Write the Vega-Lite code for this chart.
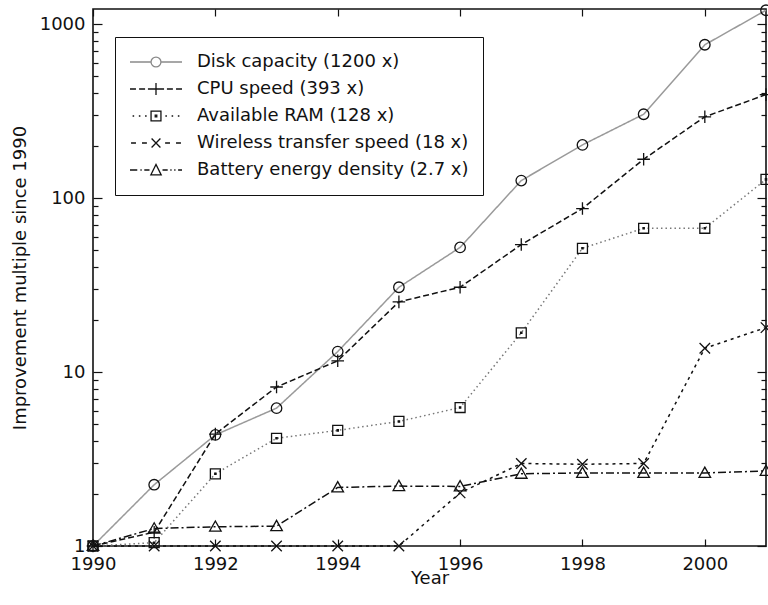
{
  "$schema": "https://vega.github.io/schema/vega-lite/v6.json",
  "width": 673,
  "height": 537,
  "autosize": {"type": "none"},
  "padding": {"left": 93, "top": 9, "right": 2, "bottom": 59},
  "background": "white",
  "config": {
    "font": "DejaVu Sans",
    "view": {"stroke": "#111111", "strokeWidth": 1.6},
    "axis": {
      "grid": false,
      "domain": false,
      "labelFlush": false,
      "labelFont": "DejaVu Sans",
      "labelFontSize": 18,
      "labelColor": "#111111",
      "titleFont": "DejaVu Sans",
      "titleFontSize": 18,
      "titleFontWeight": "normal",
      "titleColor": "#111111",
      "tickColor": "#111111",
      "tickWidth": 1.2
    },
    "legend": {
      "orient": "none",
      "legendX": 22,
      "legendY": 28,
      "padding": 14,
      "strokeColor": "#111111",
      "fillColor": "white",
      "symbolSize": 2704,
      "symbolStrokeWidth": 1.3,
      "symbolOpacity": 1,
      "symbolFillColor": "transparent",
      "clipHeight": 22,
      "labelFont": "DejaVu Sans",
      "labelFontSize": 18,
      "labelColor": "#111111",
      "labelOffset": 14,
      "labelLimit": 400,
      "rowPadding": 5
    }
  },
  "data": {
    "values": [
      {"series": "Disk capacity (1200 x)", "year": 1990, "value": 1},
      {"series": "Disk capacity (1200 x)", "year": 1991, "value": 2.25},
      {"series": "Disk capacity (1200 x)", "year": 1992, "value": 4.35},
      {"series": "Disk capacity (1200 x)", "year": 1993, "value": 6.2},
      {"series": "Disk capacity (1200 x)", "year": 1994, "value": 13.1},
      {"series": "Disk capacity (1200 x)", "year": 1995, "value": 30.7},
      {"series": "Disk capacity (1200 x)", "year": 1996, "value": 52},
      {"series": "Disk capacity (1200 x)", "year": 1997, "value": 126},
      {"series": "Disk capacity (1200 x)", "year": 1998, "value": 202},
      {"series": "Disk capacity (1200 x)", "year": 1999, "value": 303},
      {"series": "Disk capacity (1200 x)", "year": 2000, "value": 760},
      {"series": "Disk capacity (1200 x)", "year": 2001, "value": 1200},
      {"series": "CPU speed (393 x)", "year": 1990, "value": 1},
      {"series": "CPU speed (393 x)", "year": 1991, "value": 1.2},
      {"series": "CPU speed (393 x)", "year": 1992, "value": 4.4},
      {"series": "CPU speed (393 x)", "year": 1993, "value": 8.2},
      {"series": "CPU speed (393 x)", "year": 1994, "value": 11.6},
      {"series": "CPU speed (393 x)", "year": 1995, "value": 25.3},
      {"series": "CPU speed (393 x)", "year": 1996, "value": 30.7},
      {"series": "CPU speed (393 x)", "year": 1997, "value": 54},
      {"series": "CPU speed (393 x)", "year": 1998, "value": 87},
      {"series": "CPU speed (393 x)", "year": 1999, "value": 167},
      {"series": "CPU speed (393 x)", "year": 2000, "value": 293},
      {"series": "CPU speed (393 x)", "year": 2001, "value": 393},
      {"series": "Available RAM (128 x)", "year": 1990, "value": 1},
      {"series": "Available RAM (128 x)", "year": 1991, "value": 1.045},
      {"series": "Available RAM (128 x)", "year": 1992, "value": 2.6},
      {"series": "Available RAM (128 x)", "year": 1993, "value": 4.16},
      {"series": "Available RAM (128 x)", "year": 1994, "value": 4.62},
      {"series": "Available RAM (128 x)", "year": 1995, "value": 5.2},
      {"series": "Available RAM (128 x)", "year": 1996, "value": 6.25},
      {"series": "Available RAM (128 x)", "year": 1997, "value": 16.8},
      {"series": "Available RAM (128 x)", "year": 1998, "value": 51.4},
      {"series": "Available RAM (128 x)", "year": 1999, "value": 67},
      {"series": "Available RAM (128 x)", "year": 2000, "value": 67},
      {"series": "Available RAM (128 x)", "year": 2001, "value": 128},
      {"series": "Wireless transfer speed (18 x)", "year": 1990, "value": 1},
      {"series": "Wireless transfer speed (18 x)", "year": 1991, "value": 1},
      {"series": "Wireless transfer speed (18 x)", "year": 1992, "value": 1},
      {"series": "Wireless transfer speed (18 x)", "year": 1993, "value": 1},
      {"series": "Wireless transfer speed (18 x)", "year": 1994, "value": 1},
      {"series": "Wireless transfer speed (18 x)", "year": 1995, "value": 1},
      {"series": "Wireless transfer speed (18 x)", "year": 1996, "value": 2.02},
      {"series": "Wireless transfer speed (18 x)", "year": 1997, "value": 2.98},
      {"series": "Wireless transfer speed (18 x)", "year": 1998, "value": 2.95},
      {"series": "Wireless transfer speed (18 x)", "year": 1999, "value": 2.98},
      {"series": "Wireless transfer speed (18 x)", "year": 2000, "value": 13.7},
      {"series": "Wireless transfer speed (18 x)", "year": 2001, "value": 18},
      {"series": "Battery energy density (2.7 x)", "year": 1990, "value": 1},
      {"series": "Battery energy density (2.7 x)", "year": 1991, "value": 1.26},
      {"series": "Battery energy density (2.7 x)", "year": 1992, "value": 1.29},
      {"series": "Battery energy density (2.7 x)", "year": 1993, "value": 1.3},
      {"series": "Battery energy density (2.7 x)", "year": 1994, "value": 2.17},
      {"series": "Battery energy density (2.7 x)", "year": 1995, "value": 2.21},
      {"series": "Battery energy density (2.7 x)", "year": 1996, "value": 2.2},
      {"series": "Battery energy density (2.7 x)", "year": 1997, "value": 2.6},
      {"series": "Battery energy density (2.7 x)", "year": 1998, "value": 2.63},
      {"series": "Battery energy density (2.7 x)", "year": 1999, "value": 2.63},
      {"series": "Battery energy density (2.7 x)", "year": 2000, "value": 2.63},
      {"series": "Battery energy density (2.7 x)", "year": 2001, "value": 2.7}
    ]
  },
  "layer": [
    {
      "mark": {"type": "line", "strokeWidth": 1.5},
      "encoding": {
        "x": {
          "field": "year",
          "type": "quantitative",
          "scale": {"domain": [1990, 2001], "nice": false, "zero": false},
          "axis": {
            "orient": "bottom",
            "values": [1990, 1992, 1994, 1996, 1998, 2000],
            "format": "d",
            "tickSize": -7,
            "labelPadding": 16,
            "title": "Year",
            "titlePadding": -4
          }
        },
        "y": {
          "field": "value",
          "type": "quantitative",
          "scale": {"type": "log", "domain": [1, 1220], "nice": false},
          "axis": {
            "orient": "left",
            "values": [1, 2, 3, 4, 5, 6, 7, 8, 9, 10, 20, 30, 40, 50, 60, 70, 80, 90, 100, 200, 300, 400, 500, 600, 700, 800, 900, 1000],
            "format": "d",
            "labelExpr": "indexof([1, 10, 100, 1000], datum.value) >= 0 ? datum.label : ''",
            "tickSize": {"condition": {"test": "indexof([1, 10, 100, 1000], datum.value) >= 0", "value": -9}, "value": -5},
            "labelPadding": 17,
            "title": "Improvement multiple since 1990",
            "titlePadding": 10
          }
        },
        "color": {
          "field": "series",
          "type": "nominal",
          "scale": {"range": ["#777777", "#111111", "#111111", "#9a9a9a", "#111111"]},
          "legend": null
        },
        "strokeDash": {
          "field": "series",
          "type": "nominal",
          "scale": {"range": [[1.5, 3], [8, 3, 2, 3], [6, 3], [1, 0], [3, 4]]},
          "legend": null
        }
      }
    },
    {
      "mark": {"type": "point", "filled": false, "stroke": "#111111", "strokeWidth": 1.3, "size": 110, "opacity": 1},
      "encoding": {
        "x": {
          "field": "year",
          "type": "quantitative",
          "axis": {
            "orient": "top",
            "values": [1990, 1992, 1994, 1996, 1998, 2000],
            "tickSize": -7,
            "labels": false,
            "title": null
          }
        },
        "y": {
          "field": "value",
          "type": "quantitative",
          "axis": {
            "orient": "right",
            "values": [1, 2, 3, 4, 5, 6, 7, 8, 9, 10, 20, 30, 40, 50, 60, 70, 80, 90, 100, 200, 300, 400, 500, 600, 700, 800, 900, 1000],
            "tickSize": {"condition": {"test": "indexof([1, 10, 100, 1000], datum.value) >= 0", "value": -9}, "value": -5},
            "labels": false,
            "title": null
          }
        },
        "shape": {
          "field": "series",
          "type": "nominal",
          "scale": {
            "range": [
              "M-0.95,-0.95H0.95V0.95H-0.95ZM-0.12,-0.12H0.12V0.12H-0.12Z",
              "M0,-1.1L1.1,0.85L-1.1,0.85Z",
              "M-1.2,0H1.2M0,-1.2V1.2",
              "circle",
              "M-1,-1L1,1M-1,1L1,-1"
            ]
          },
          "legend": null
        }
      }
    },
    {
      "mark": {"type": "point", "filled": false, "opacity": 0},
      "encoding": {
        "x": {"field": "year", "type": "quantitative", "axis": null},
        "y": {"field": "value", "type": "quantitative", "axis": null},
        "shape": {
          "field": "series",
          "type": "nominal",
          "scale": {
            "domain": ["Disk capacity (1200 x)", "CPU speed (393 x)", "Available RAM (128 x)", "Wireless transfer speed (18 x)", "Battery energy density (2.7 x)"],
            "range": [
              "M-1,0H-0.2M0.2,0H1M0.19,0A0.19,0.19,0,1,1,-0.19,0A0.19,0.19,0,1,1,0.19,0",
              "M-1,0H-0.77M-0.65,0H-0.42M-0.31,0H0.31M0,-0.23V0.23M0.42,0H0.65M0.77,0H1",
              "M-0.9,0H-0.84M-0.66,0H-0.6M-0.42,0H-0.36M-0.19,-0.19H0.19V0.19H-0.19ZM-0.03,-0.03H0.03V0.03H-0.03ZM0.36,0H0.42M0.6,0H0.66M0.84,0H0.9",
              "M-0.96,0H-0.77M-0.54,0H-0.35M-0.17,-0.17L0.17,0.17M-0.17,0.17L0.17,-0.17M0.35,0H0.54M0.77,0H0.96",
              "M-1,0H-0.72M-0.6,0H-0.55M-0.45,0H-0.25M-0.2,0.19L0,-0.21L0.2,0.19ZM0.25,0H0.45M0.55,0H0.6M0.7,0H0.75M0.85,0H1"
            ]
          },
          "legend": {"title": null}
        },
        "stroke": {
          "field": "series",
          "type": "nominal",
          "scale": {
            "domain": ["Disk capacity (1200 x)", "CPU speed (393 x)", "Available RAM (128 x)", "Wireless transfer speed (18 x)", "Battery energy density (2.7 x)"],
            "range": ["#8a8a8a", "#111111", "#111111", "#111111", "#111111"]
          },
          "legend": {"title": null}
        }
      }
    }
  ],
  "resolve": {
    "axis": {"x": "independent", "y": "independent"},
    "scale": {"shape": "independent", "stroke": "independent"}
  }
}
